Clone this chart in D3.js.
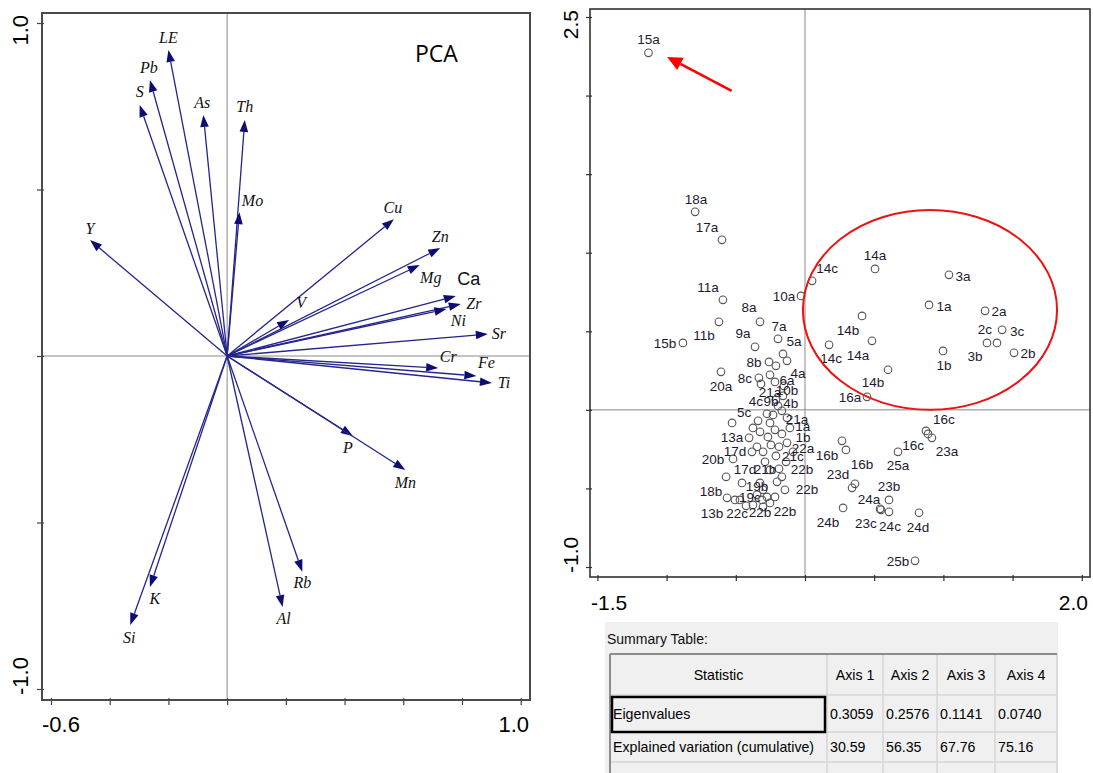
<!DOCTYPE html>
<html>
<head>
<meta charset="utf-8">
<script src="https://cdn.jsdelivr.net/npm/d3@7"></script>
<style>
  html, body { margin: 0; padding: 0; background: #fff; }
  svg { display: block; }
</style>
</head>
<body>
<svg id="chart" width="1093" height="773"></svg>
<script>
// ---------- Variable loadings (biplot arrows) ----------
const elements = ["LE","Pb","S","As","Th","Mo","Y","Cu","Zn","Mg","Ca","Zr","Ni","V","Sr","Cr","Fe","Ti","P","Mn","Rb","Al","K","Si"];
const loadAxis1 = [-0.200,-0.263,-0.298,-0.081,0.060,0.042,-0.467,0.568,0.726,0.656,0.779,0.796,0.747,0.211,0.888,0.719,0.849,0.902,0.428,0.607,0.256,0.189,-0.263,-0.330];
const loadAxis2 = [0.919,0.829,0.754,0.724,0.709,0.432,0.348,0.411,0.324,0.273,0.180,0.156,0.141,0.108,0.066,-0.036,-0.060,-0.081,-0.240,-0.342,-0.648,-0.754,-0.694,-0.808];
// label nudges (px) from each arrow tip
const loadLabelNudge = [[0,-12],[-1,-12],[0,-13],[-1,-12],[0,-13],[13,-12],[0,-12],[-1,-12],[0,-12],[11,12],[13,-17],[13,-1],[12,11],[12,-18],[11,-1],[10,-11],[10,-13],[12,0],[-5,12],[0,13],[0,11],[1,11],[5,11],[-1,12]];

// ---------- Sample scores ----------
const sampleNames = ["15a","18a","17a","11a","11b","15b","8a","10a","14c","7a","9a","5a","","8b","","20a","8c","","","6a","4a","10b","21a","9b","4c","4b","5c","","21a","","","","13a","20b","17d","","17d","18b","19b","19c","","","","","","","22b","","22b","","21b","22b","22c","13b","22b","","","","1a","","","","1b","22a","","21c","","","",
  "16b","16b","14a","3a","1a","2a","3c","2c","3b","2b","1b","14b","14a","14c","14b","16a","16c","16c","23a","25a","23d","","23b","24a","23c","24c","24d","24b","25b"];
const sampleAxis1 = [-1.131,-0.794,-0.600,-0.593,-0.622,-0.882,-0.325,-0.029,0.051,-0.195,-0.361,-0.159,-0.130,-0.260,-0.210,-0.607,-0.333,-0.318,-0.253,-0.217,-0.152,-0.159,-0.210,-0.195,-0.275,-0.167,-0.339,-0.231,-0.130,-0.253,-0.376,-0.527,-0.404,-0.520,-0.383,-0.570,-0.253,-0.563,-0.470,-0.376,-0.455,-0.325,-0.303,-0.347,-0.311,-0.275,-0.253,-0.303,-0.188,-0.167,-0.202,-0.145,-0.426,-0.506,-0.217,-0.325,-0.268,-0.217,-0.167,-0.109,-0.246,-0.188,-0.130,-0.087,-0.303,-0.210,-0.137,-0.347,-0.289,
  0.267,0.296,0.506,1.040,0.896,1.301,1.424,1.387,1.315,1.510,0.997,0.412,0.484,0.174,0.600,0.448,0.874,0.889,0.917,0.672,0.340,0.361,0.607,0.542,0.549,0.607,0.824,0.275,0.795];
const sampleAxis2 = [2.272,1.260,1.082,0.700,0.560,0.426,0.560,0.725,0.821,0.452,0.401,0.356,0.312,0.305,0.280,0.242,0.204,0.165,0.223,0.178,0.153,0.089,0.064,0.025,-0.025,-0.006,-0.070,-0.032,-0.051,-0.083,-0.115,-0.083,-0.178,-0.312,-0.267,-0.426,-0.382,-0.560,-0.573,-0.605,-0.465,-0.465,-0.509,-0.541,-0.573,-0.554,-0.592,-0.617,-0.375,-0.426,-0.458,-0.509,-0.611,-0.573,-0.554,-0.140,-0.172,-0.127,-0.153,-0.115,-0.223,-0.235,-0.210,-0.267,-0.267,-0.293,-0.331,-0.235,-0.331,
  -0.197,-0.255,0.897,0.859,0.668,0.630,0.509,0.426,0.426,0.363,0.375,0.598,0.439,0.414,0.255,0.083,-0.134,-0.153,-0.178,-0.267,-0.496,-0.471,-0.573,-0.630,-0.636,-0.649,-0.655,-0.624,-0.961];
// label nudges (px) from each sample symbol
const sampleLabelNudge = [[0,-13],[1,-12],[-15,-12],[-15,-12],[-15,14],[-18,1],[-11,-14],[-17,1],[15,-12],[1,-12],[-12,-13],[11,-12],null,[-15,1],null,[0,15],[-14,1],null,null,[12,-1],[14,-12],[4,-5],[-6,-7],[-7,-4],[-11,-12],[9,-7],[-14,-8],null,[10,2],null,null,null,[-17,0],[-20,1],[-17,0],null,[-25,0],[-16,-6],[17,-13],[-3,-7],null,null,null,null,null,null,[-10,10],null,[23,1],null,[-12,-12],[22,0],[-9,8],[-23,14],[10,15],null,null,null,[21,-7],null,null,null,[16,-5],[10,-3],null,[17,1],null,null,null,
  [-15,15],[16,15],[0,-13],[14,2],[15,2],[14,1],[15,2],[-12,-13],[-12,14],[14,1],[1,15],[-14,15],[-14,15],[2,14],[-15,13],[-17,1],[18,-11],[-15,12],[15,14],[0,14],[-14,-13],null,[0,-13],[-11,-9],[-15,14],[1,15],[-1,15],[-15,15],[-17,1]];

// ---------- Summary table ----------
const tableHeader = ["Statistic","Axis 1","Axis 2","Axis 3","Axis 4"];
const eigenvalues = ["0.3059","0.2576","0.1141","0.0740"];
const cumulativeVariation = ["30.59","56.35","67.76","75.16"];

// ---------- Axis ticks ----------
const leftXTicks = [-0.6,-0.4,-0.2,0,0.2,0.4,0.6,0.8,1.0];
const leftYTicks = [-1,-0.5,0,0.5,1];
const rightXTicks = [-1.5,-1,-0.5,0,0.5,1,1.5,2];
const rightYTicks = [-1,-0.5,0,0.5,1,1.5,2,2.5];

const svg = d3.select("#chart");
svg.append("rect").attr("width",1093).attr("height",773).attr("fill","#fff");

const tickFont = "'Liberation Sans', Arial, sans-serif";

// ================= Left panel: loadings biplot =================
const L = {left:42, right:530, top:13, bottom:700};
const xL = d3.scaleLinear().domain([-0.6,1.0]).range([51,520.7]);
const yL = d3.scaleLinear().domain([-1,1]).range([689,23]);

const gL = svg.append("g");
gL.append("line").attr("x1",L.left).attr("x2",L.right).attr("y1",yL(0)).attr("y2",yL(0))
  .attr("stroke","#8a8a8a").attr("stroke-width",1);
gL.append("line").attr("x1",xL(0)).attr("x2",xL(0)).attr("y1",L.top).attr("y2",L.bottom)
  .attr("stroke","#8a8a8a").attr("stroke-width",1);

gL.append("g").attr("transform",`translate(${L.left+2},0)`)
  .call(d3.axisLeft(yL).tickValues(leftYTicks).tickSize(7).tickFormat(""))
  .call(g => g.select(".domain").remove())
  .call(g => g.selectAll("line").attr("stroke","#444").attr("stroke-width",1.2));
gL.append("g").attr("transform",`translate(0,${L.bottom-2})`)
  .call(d3.axisBottom(xL).tickValues(leftXTicks).tickSize(7).tickFormat(""))
  .call(g => g.select(".domain").remove())
  .call(g => g.selectAll("line").attr("stroke","#444").attr("stroke-width",1.2));

gL.append("rect").attr("x",L.left).attr("y",L.top).attr("width",L.right-L.left).attr("height",L.bottom-L.top)
  .attr("fill","none").attr("stroke","#4a4a4a").attr("stroke-width",2);

gL.append("text").attr("x",L.left).attr("y",732).attr("font-family",tickFont).attr("font-size",22)
  .attr("text-anchor","start").text("-0.6");
gL.append("text").attr("x",L.right-1).attr("y",732).attr("font-family",tickFont).attr("font-size",22)
  .attr("text-anchor","end").text("1.0");
gL.append("text").attr("transform",`translate(28,${L.top+2}) rotate(-90)`).attr("font-family",tickFont)
  .attr("font-size",22).attr("text-anchor","end").text("1.0");
gL.append("text").attr("transform",`translate(28,${L.bottom-5}) rotate(-90)`).attr("font-family",tickFont)
  .attr("font-size",22).attr("text-anchor","start").text("-1.0");

gL.append("text").attr("x",415).attr("y",62).attr("font-family","'Open Sans', 'Noto Sans', sans-serif")
  .attr("font-size",23).attr("fill","#000").text("PCA");

// arrows
const ox = xL(0), oy = yL(0);
const arrowLen = 12, arrowHalf = 4.3;
elements.forEach((name,i) => {
  const tx = xL(loadAxis1[i]), ty = yL(loadAxis2[i]);
  const ang = Math.atan2(ty-oy, tx-ox);
  const bx = tx - arrowLen*Math.cos(ang), by = ty - arrowLen*Math.sin(ang);
  gL.append("line").attr("x1",ox).attr("y1",oy).attr("x2",bx).attr("y2",by)
    .attr("stroke","#25258a").attr("stroke-width",1.3);
  const px = -Math.sin(ang), py = Math.cos(ang);
  gL.append("path")
    .attr("d",`M${tx},${ty}L${bx+px*arrowHalf},${by+py*arrowHalf}L${bx-px*arrowHalf},${by-py*arrowHalf}Z`)
    .attr("fill","#0c0c74");
  const [dx,dy] = loadLabelNudge[i];
  const t = gL.append("text").attr("x",tx+dx).attr("y",ty+dy)
    .attr("text-anchor","middle").attr("dominant-baseline","central").attr("fill","#111").text(name);
  if (name === "Ca") {
    t.attr("font-family",tickFont).attr("font-size",18);
  } else {
    t.attr("font-family","'Liberation Serif','Times New Roman',serif").attr("font-style","italic").attr("font-size",16);
  }
});

// ================= Right panel: sample scores =================
const R = {left:590, right:1090, top:9, bottom:577};
const xR = d3.scaleLinear().domain([-1.5,2.0]).range([597.4,1081.8]);
const yR = d3.scaleLinear().domain([-1,2.5]).range([567,17]);

const gR = svg.append("g");
gR.append("line").attr("x1",R.left).attr("x2",R.right).attr("y1",yR(0)).attr("y2",yR(0))
  .attr("stroke","#8a8a8a").attr("stroke-width",1);
gR.append("line").attr("x1",xR(0)).attr("x2",xR(0)).attr("y1",R.top).attr("y2",R.bottom)
  .attr("stroke","#8a8a8a").attr("stroke-width",1);

gR.append("g").attr("transform",`translate(${R.left+2},0)`)
  .call(d3.axisLeft(yR).tickValues(rightYTicks).tickSize(6).tickFormat(""))
  .call(g => g.select(".domain").remove())
  .call(g => g.selectAll("line").attr("stroke","#333").attr("stroke-width",1.2));
gR.append("g").attr("transform",`translate(0,${R.bottom-2})`)
  .call(d3.axisBottom(xR).tickValues(rightXTicks).tickSize(6).tickFormat(""))
  .call(g => g.select(".domain").remove())
  .call(g => g.selectAll("line").attr("stroke","#333").attr("stroke-width",1.2));

gR.append("rect").attr("x",R.left).attr("y",R.top).attr("width",R.right-R.left).attr("height",R.bottom-R.top)
  .attr("fill","none").attr("stroke","#333").attr("stroke-width",1.6);

gR.append("text").attr("x",R.left+1).attr("y",610).attr("font-family",tickFont).attr("font-size",21)
  .attr("text-anchor","start").text("-1.5");
gR.append("text").attr("x",R.right-2).attr("y",610).attr("font-family",tickFont).attr("font-size",21)
  .attr("text-anchor","end").text("2.0");
gR.append("text").attr("transform",`translate(578,${R.top+1}) rotate(-90)`).attr("font-family",tickFont)
  .attr("font-size",21).attr("text-anchor","end").text("2.5");
gR.append("text").attr("transform",`translate(578,${R.bottom-4}) rotate(-90)`).attr("font-family",tickFont)
  .attr("font-size",21).attr("text-anchor","start").text("-1.0");

// sample symbols and labels
const samples = sampleNames.map((n,i) => ({name:n, x:sampleAxis1[i], y:sampleAxis2[i], nudge:sampleLabelNudge[i]}));
gR.selectAll("circle.sample").data(samples).join("circle").attr("class","sample")
  .attr("cx",d => xR(d.x)).attr("cy",d => yR(d.y)).attr("r",3.8)
  .attr("fill","none").attr("stroke","#555").attr("stroke-width",1.1);
gR.selectAll("text.sample").data(samples.filter(d => d.name && d.nudge)).join("text").attr("class","sample")
  .attr("x",d => xR(d.x)+d.nudge[0]).attr("y",d => yR(d.y)+d.nudge[1])
  .attr("text-anchor","middle").attr("dominant-baseline","central")
  .attr("font-family",tickFont).attr("font-size",13.5).attr("fill","#1d1a30").text(d => d.name);

// highlighted group outline and outlier pointer
gR.append("ellipse").attr("cx",xR(0.903)).attr("cy",yR(0.636))
  .attr("rx",xR(0.918)-xR(0)).attr("ry",yR(0)-yR(0.636))
  .attr("fill","none").attr("stroke","#ee1111").attr("stroke-width",2);
{
  const sx = xR(-0.530), sy = yR(2.030), ex = xR(-0.996), ey = yR(2.246);
  const ang = Math.atan2(ey-sy, ex-sx);
  const hl = 15, hw = 7;
  const bx = ex - hl*Math.cos(ang), by = ey - hl*Math.sin(ang);
  const px = -Math.sin(ang), py = Math.cos(ang);
  gR.append("line").attr("x1",sx).attr("y1",sy).attr("x2",bx).attr("y2",by)
    .attr("stroke","#ff0000").attr("stroke-width",2.6);
  gR.append("path").attr("d",`M${ex},${ey}L${bx+px*hw},${by+py*hw}L${bx-px*hw},${by-py*hw}Z`).attr("fill","#ff0000");
}

// ================= Summary table =================
const gT = svg.append("g");
const tableFont = "'Liberation Sans', Tahoma, sans-serif";
gT.append("rect").attr("x",605).attr("y",622).attr("width",453).attr("height",151).attr("fill","#f0f0f0");
gT.append("text").attr("x",607).attr("y",644).attr("font-family",tableFont).attr("font-size",14)
  .attr("fill","#111").text("Summary Table:");

const colEdges = [610,827,883,937,995,1057];
const rowEdges = [654,695,732,762];
const rows = [tableHeader, ["Eigenvalues", ...eigenvalues], ["Explained variation (cumulative)", ...cumulativeVariation]];

// grid
colEdges.forEach(x => gT.append("line").attr("x1",x).attr("x2",x).attr("y1",rowEdges[0]).attr("y2",773)
  .attr("stroke","#d6d6d6").attr("stroke-width",1.5));
rowEdges.forEach(y => gT.append("line").attr("x1",colEdges[0]).attr("x2",colEdges[5]).attr("y1",y).attr("y2",y)
  .attr("stroke","#d6d6d6").attr("stroke-width",1.5));
gT.append("line").attr("x1",colEdges[0]).attr("x2",colEdges[5]).attr("y1",rowEdges[0]).attr("y2",rowEdges[0])
  .attr("stroke","#8c8c8c").attr("stroke-width",2);
gT.append("line").attr("x1",colEdges[0]).attr("x2",colEdges[0]).attr("y1",rowEdges[0]).attr("y2",773)
  .attr("stroke","#8c8c8c").attr("stroke-width",2);
gT.append("rect").attr("x",612).attr("y",697).attr("width",213).attr("height",35)
  .attr("fill","none").attr("stroke","#000").attr("stroke-width",2.5);

rows.forEach((row,ri) => {
  const yc = (rowEdges[ri]+rowEdges[ri+1])/2;
  row.forEach((cell,ci) => {
    const header = ri === 0;
    gT.append("text")
      .attr("x", header ? (colEdges[ci]+colEdges[ci+1])/2 : colEdges[ci]+3)
      .attr("y", yc).attr("dominant-baseline","central")
      .attr("text-anchor", header ? "middle" : "start")
      .attr("font-family",tableFont).attr("font-size",14.2).attr("fill","#000").text(cell);
  });
});
</script>
</body>
</html>
